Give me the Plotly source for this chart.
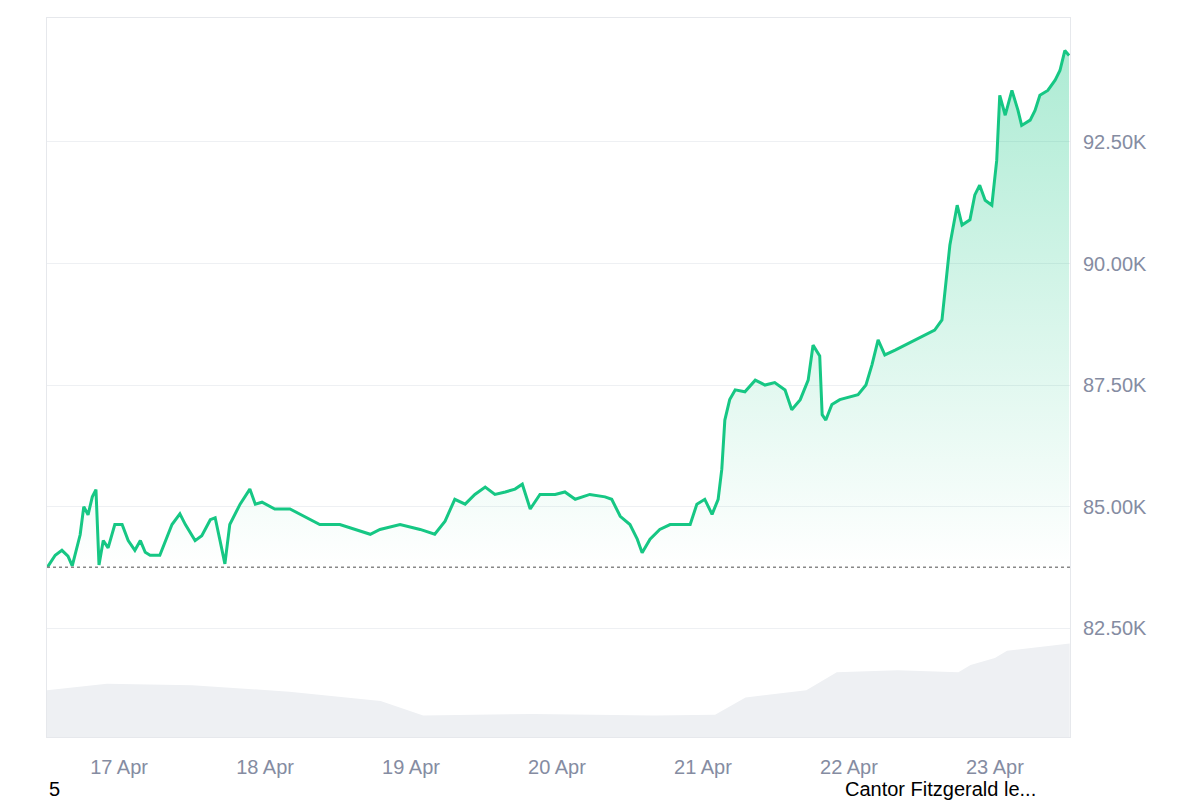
import pandas as pd
import plotly.graph_objects as go

base = pd.Timestamp("2025-04-16 12:00")
hours = [0.2,1.5,2.6,3.6,4.3,4.9,5.6,6.2,6.9,7.6,8.2,8.7,9.4,10.2,11.3,12.5,13.5,14.6,15.5,16.3,17.1,18.7,19.6,20.7,22.0,22.9,24.5,25.6,27.0,27.8,28.6,29.4,30.2,31.9,33.5,34.4,35.5,37.6,40.1,41.8,43.4,45.0,48.3,50.8,53.3,54.9,58.2,61.5,63.9,65.6,67.2,68.9,70.5,72.2,73.8,75.5,77.1,78.3,79.6,81.2,83.7,85.3,87.0,89.4,91.9,93.0,94.4,96.0,97.2,98.0,99.3,100.9,102.6,105.9,107.0,108.3,109.5,110.5,111.1,111.6,112.4,113.3,114.9,116.6,118.2,119.8,121.5,122.6,124.0,125.3,126.1,127.2,127.6,128.2,129.2,130.5,133.5,134.8,135.8,136.8,137.9,139.6,141.2,142.9,144.5,146.1,147.3,147.8,148.6,149.8,150.6,151.9,152.7,153.5,154.4,155.5,156.3,156.8,157.7,158.8,159.8,160.4,161.8,162.6,163.4,164.7,165.9,166.7,167.5,168.2]
prices_k = [83.75,84.0,84.1,83.98,83.78,84.05,84.42,85.0,84.83,85.2,85.35,83.8,84.3,84.15,84.63,84.63,84.3,84.1,84.3,84.06,84.0,84.0,84.3,84.63,84.85,84.63,84.3,84.4,84.73,84.77,84.3,83.82,84.63,85.05,85.36,85.05,85.09,84.95,84.95,84.84,84.74,84.63,84.63,84.53,84.43,84.53,84.63,84.53,84.43,84.7,85.15,85.05,85.25,85.4,85.25,85.3,85.36,85.46,84.95,85.25,85.25,85.3,85.15,85.25,85.2,85.15,84.8,84.63,84.33,84.05,84.33,84.53,84.63,84.63,85.05,85.15,84.84,85.15,85.77,86.78,87.2,87.4,87.36,87.6,87.5,87.55,87.4,86.99,87.2,87.6,88.32,88.1,86.89,86.78,87.1,87.2,87.3,87.5,87.92,88.43,88.12,88.22,88.32,88.43,88.53,88.63,88.84,89.46,90.38,91.2,90.79,90.9,91.41,91.61,91.3,91.2,92.12,93.46,93.05,93.56,93.15,92.84,92.95,93.15,93.46,93.56,93.77,93.97,94.38,94.28]
vol_hours = [0,10,24,40,55,62,80,100,110,115,125,130,140,150,152,156,158,168.3]
volumes = [6.5,7.4,7.2,6.3,5.0,3.0,3.2,3.0,3.1,5.5,6.5,9.0,9.3,9.0,10.0,11.0,12.0,13.0]
baseline_k = 83.75
tick_days = ["2025-04-17","2025-04-18","2025-04-19","2025-04-20","2025-04-21","2025-04-22","2025-04-23"]
tick_text = ["17 Apr","18 Apr","19 Apr","20 Apr","21 Apr","22 Apr","23 Apr"]
yticks = [82500, 85000, 87500, 90000, 92500]
ytext = ["82.50K","85.00K","87.50K","90.00K","92.50K"]

t = [base + pd.Timedelta(hours=h) for h in hours]
p = [v*1000 for v in prices_k]
vt = [base + pd.Timedelta(hours=h) for h in vol_hours]

fig = go.Figure()
fig.add_trace(go.Scatter(x=vt, y=volumes, yaxis="y2", mode="lines", line=dict(width=0),
                         fill="tozeroy", fillcolor="#eef0f3", hoverinfo="skip"))
fig.add_trace(go.Scatter(x=t, y=[baseline_k*1000]*len(t), mode="lines", line=dict(width=0), hoverinfo="skip"))
fig.add_trace(go.Scatter(x=t, y=p, mode="lines", line=dict(color="#16c784", width=3),
                         fill="tonexty",
                         fillgradient=dict(type="vertical",
                                           colorscale=[[0, "rgba(22,199,132,0)"], [1, "rgba(22,199,132,0.35)"]])))
fig.add_shape(type="line", xref="paper", x0=0, x1=1, y0=baseline_k*1000, y1=baseline_k*1000,
              line=dict(color="#888", width=1.5, dash="dot"))
fig.update_layout(
    width=1185, height=792, showlegend=False, plot_bgcolor="white", paper_bgcolor="white",
    margin=dict(l=39, r=123, t=10, b=63),
    font=dict(family="Liberation Sans, Arial", size=20, color="#858ca2"),
    xaxis=dict(range=[base + pd.Timedelta(hours=0.15), base + pd.Timedelta(hours=168.35)],
               tickvals=tick_days, ticktext=tick_text, showgrid=False, ticklabelstandoff=12,
               showline=True, linecolor="#e6e8ec", mirror=True, ticks=""),
    yaxis=dict(side="right", range=[80260, 95050], tickvals=yticks, ticktext=ytext, ticklabelstandoff=8,
               gridcolor="#eef0f3", showline=True, linecolor="#e6e8ec", mirror=True, zeroline=False),
    yaxis2=dict(overlaying="y", range=[0, 100], visible=False),
    annotations=[
        dict(text="5", xref="paper", yref="paper", x=0, y=-0.072, xanchor="left", yanchor="middle",
             showarrow=False, font=dict(color="black", size=20)),
        dict(text="Cantor Fitzgerald le...", xref="paper", yref="paper", x=0.778, y=-0.072,
             xanchor="left", yanchor="middle", showarrow=False, font=dict(color="black", size=20)),
    ],
)
fig.write_html("out.html")
